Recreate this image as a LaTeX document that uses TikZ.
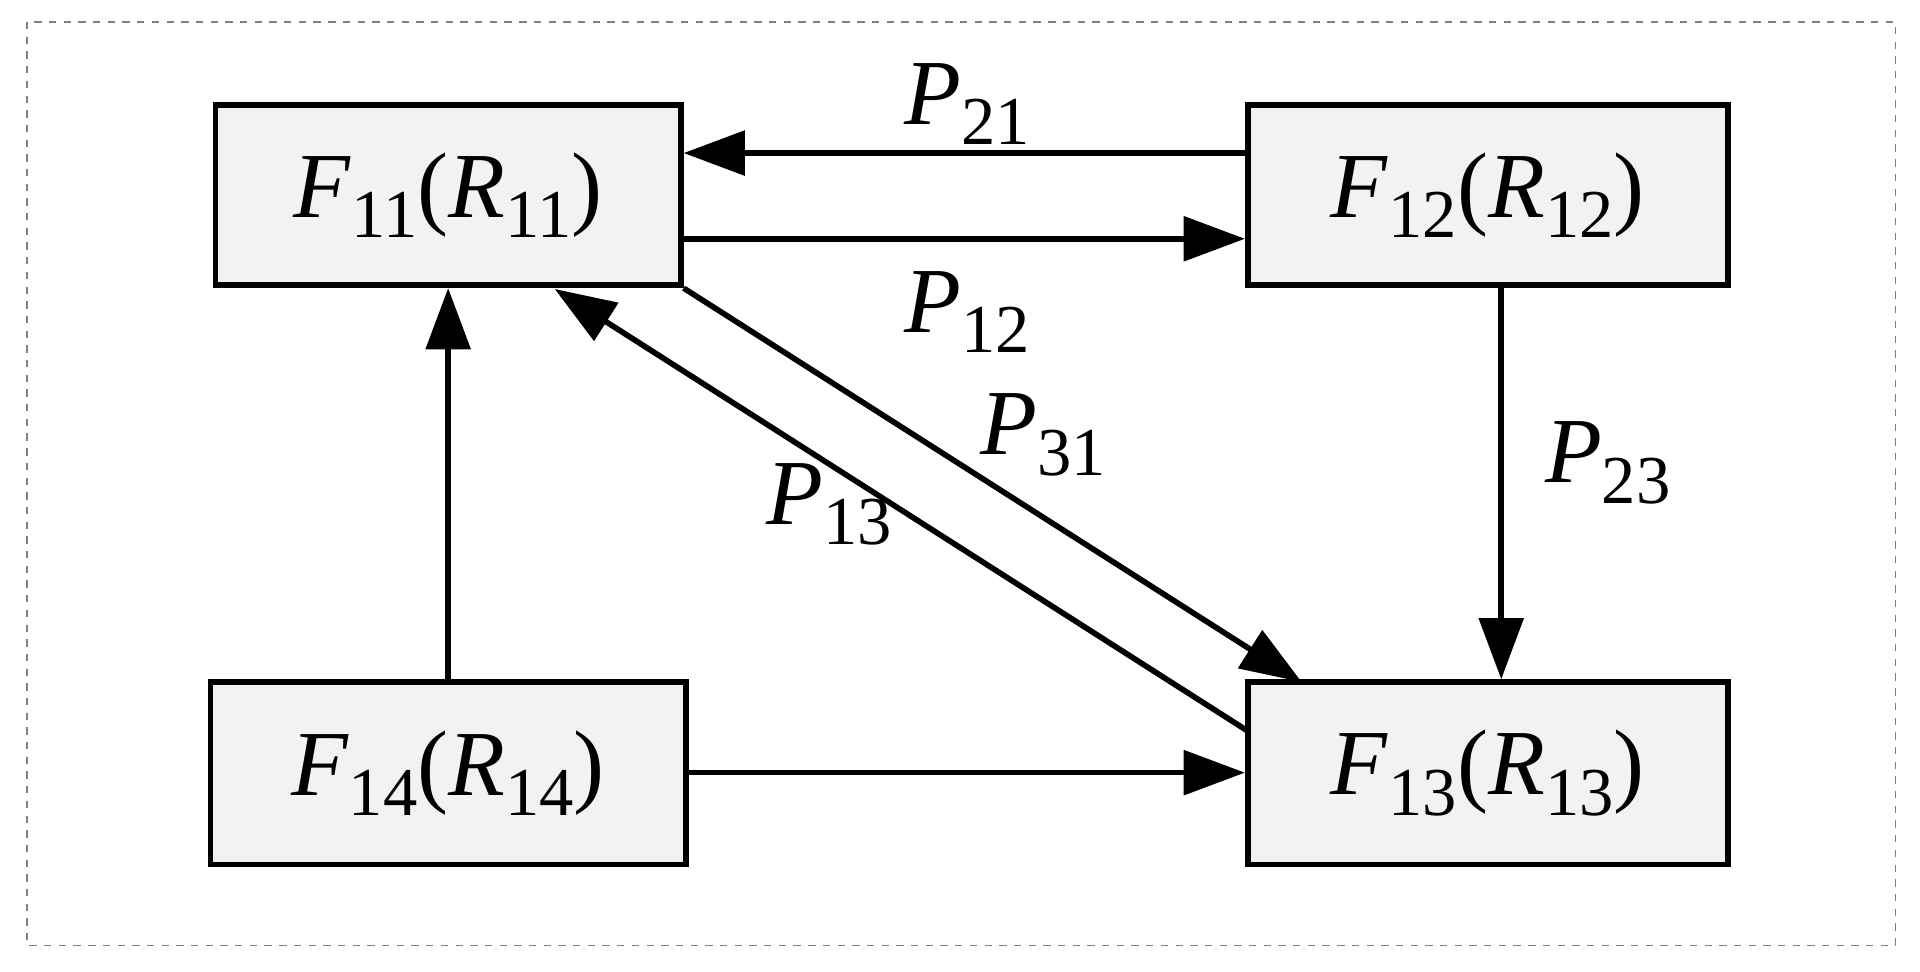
\documentclass[tikz,border=0pt]{standalone}
\usepackage{fontspec}
\setmainfont{Liberation Serif}
\usetikzlibrary{arrows.meta}
\newcommand\sbs[1]{\raisebox{-0.22em}{\fontsize{28}{30}\selectfont #1}}
\newcommand\lab[2]{\textit{#1}\sbs{#2}}
\definecolor{boxfill}{HTML}{F2F2F2}
\begin{document}
\begin{tikzpicture}[x=0.5pt,y=-0.5pt,
  box/.style={draw=black,line width=2.3pt,fill=boxfill,inner sep=0pt,font=\fontsize{38}{44}\selectfont},
  arr/.style={line width=2.3pt,-{Triangle[length=25pt,width=18pt]}},
  lbl/.style={font=\fontsize{38}{44}\selectfont,inner sep=0pt}]
\useasboundingbox (0,0) rectangle (1568,793);
\draw[gray,dashed,line width=0.5pt] (22,18) rectangle (1548,772);
\node[box,minimum width=190pt,minimum height=73.5pt] (F11) at (366,159.5) {\lab{F}{11}(\lab{R}{11})};
\node[box,minimum width=196pt,minimum height=73.5pt] (F12) at (1215,159.5) {\lab{F}{12}(\lab{R}{12})};
\node[box,minimum width=194pt,minimum height=74.5pt] (F14) at (366,631.5) {\lab{F}{14}(\lab{R}{14})};
\node[box,minimum width=196pt,minimum height=74.5pt] (F13) at (1215,631.5) {\lab{F}{13}(\lab{R}{13})};
\coordinate (a1) at (1019,125); \coordinate (a2) at (556,125);
\draw[arr] (F12.west |- a1) -- (F11.east |- a2);
\coordinate (b1) at (556,195);
\draw[arr] (F11.east |- b1) -- (F12.west |- b1);
\draw[arr] (F12.south -| 1226,0) -- (F13.north -| 1226,0);
\draw[arr] (F14.north) -- (F11.south);
\draw[arr] (F14.east |- 0,631) -- (F13.west |- 0,631);
\coordinate (d1) at (1063,557);
\draw[arr] (F11.south east) -- (d1);
\coordinate (e1) at (1019,597); \coordinate (e2) at (453,236);
\draw[arr] (e1) -- (e2);
\node[lbl] (p21) at (790,85) {\lab{P}{21}};
\node[lbl] (p12) at (790,255) {\lab{P}{12}};
\node[lbl] (p31) at (852,355) {\lab{P}{31}};
\node[lbl] (p13) at (677,412) {\lab{P}{13}};
\node[lbl] (p23) at (1313,378) {\lab{P}{23}};
\end{tikzpicture}
\end{document}
